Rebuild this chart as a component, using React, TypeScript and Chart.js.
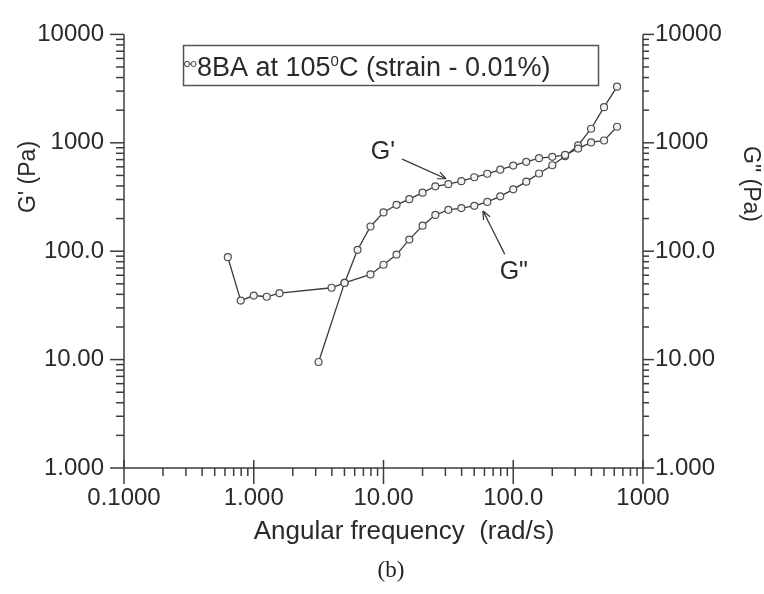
import React, { useEffect, useRef } from 'react';
import { Chart, registerables } from 'chart.js';

Chart.register(...registerables);

// ---- data ----
const freqGp = [3.16, 5.01, 6.31, 7.94, 10, 12.6, 15.8, 20, 25.1, 31.6, 39.8, 50.1, 63.1, 79.4, 100, 126, 158, 200, 251, 316, 398, 501, 631];
const gPrime = [9.5, 51, 103, 169, 228, 268, 302, 347, 397, 415, 443, 481, 518, 565, 616, 668, 722, 742, 773, 884, 1007, 1050, 1406];

const freqGpp = [0.631, 0.794, 1.0, 1.26, 1.58, 3.98, 5.01, 7.94, 10, 12.6, 15.8, 20, 25.1, 31.6, 39.8, 50.1, 63.1, 79.4, 100, 126, 158, 200, 251, 316, 398, 501, 631];
const gDoublePrime = [88, 35, 39, 38, 41, 46, 51, 61, 75, 93, 128, 172, 216, 241, 250, 262, 285, 321, 372, 438, 521, 621, 753, 946, 1348, 2132, 3297];

const xTickValues = [0.1, 1, 10, 100, 1000];
const xTickLabels = ['0.1000', '1.000', '10.00', '100.0', '1000'];
const yTickValues = [1, 10, 100, 1000, 10000];
const yTickLabels = ['1.000', '10.00', '100.0', '1000', '10000'];

const xTitle = 'Angular frequency  (rad/s)';
const yTitle = "G' (Pa)";
const y2Title = 'G" (Pa)';
const legendMain = '8BA at 105';
const legendSup = '0';
const legendTail = 'C (strain - 0.01%)';
const caption = '(b)';

// annotation labels with arrows, positioned in data coordinates
const annText = ["G'", 'G"'];
const annTextX = [9.9, 101];
const annTextY = [818, 64.6];
const annFromX = [13.9, 86];
const annFromY = [707, 94];
const annToX = [30.3, 58.5];
const annToY = [466, 235];

const FONT = '"Liberation Sans", Arial, Helvetica, sans-serif';
const INK = '#2a2a2a';
const AXIS = '#3c3c3c';

function majorMinorValues(min: number, max: number) {
  const out: { v: number; major: boolean }[] = [];
  const d0 = Math.floor(Math.log10(min) + 1e-9);
  const d1 = Math.ceil(Math.log10(max) - 1e-9);
  for (let d = d0; d <= d1; d++) {
    for (let m = 1; m <= 9; m++) {
      const v = m * Math.pow(10, d);
      if (v < min * 0.9999 || v > max * 1.0001) continue;
      out.push({ v, major: m === 1 });
    }
  }
  return out;
}

const decorPlugin = {
  id: 'decor',
  afterDatasetsDraw(chart: any) {
    const { ctx, chartArea } = chart;
    const { left, right, top, bottom } = chartArea;
    const xs = chart.scales.x;
    const ys = chart.scales.y;
    const ys2 = chart.scales.y2;
    ctx.save();
    ctx.strokeStyle = AXIS;
    ctx.lineWidth = 1.5;
    const seg = (x1: number, y1: number, x2: number, y2: number) => {
      ctx.beginPath();
      ctx.moveTo(x1, y1);
      ctx.lineTo(x2, y2);
      ctx.stroke();
    };
    // axis lines
    seg(left, top, left, bottom);
    seg(right, top, right, bottom);
    seg(left, bottom, right, bottom);
    // left ticks
    for (const t of majorMinorValues(ys.min, ys.max)) {
      const py = ys.getPixelForValue(t.v);
      seg(left - (t.major ? 14 : 8), py, left, py);
    }
    // right ticks
    for (const t of majorMinorValues(ys2.min, ys2.max)) {
      const py = ys2.getPixelForValue(t.v);
      seg(right, py, right + (t.major ? 11 : 6), py);
    }
    // bottom ticks
    for (const t of majorMinorValues(xs.min, xs.max)) {
      const px = xs.getPixelForValue(t.v);
      if (t.major) seg(px, bottom - 8, px, bottom + 16);
      else seg(px, bottom, px, bottom + 8);
    }

    // axis titles
    ctx.fillStyle = INK;
    ctx.textBaseline = 'middle';
    ctx.textAlign = 'center';
    ctx.font = `26px ${FONT}`;
    ctx.fillText(xTitle, 404, 532);

    ctx.font = `23px ${FONT}`;
    ctx.save();
    ctx.translate(28.5, 177);
    ctx.rotate(-Math.PI / 2);
    ctx.fillText(yTitle, 0, 0);
    ctx.restore();
    ctx.save();
    ctx.translate(750, 184);
    ctx.rotate(Math.PI / 2);
    ctx.fillText(y2Title, 0, 0);
    ctx.restore();

    // legend box
    ctx.strokeStyle = '#555';
    ctx.lineWidth = 1.5;
    ctx.strokeRect(183.5, 45.5, 415, 40);
    // legend symbol
    ctx.lineWidth = 1;
    ctx.strokeStyle = '#444';
    seg(186, 64, 195, 64);
    for (const cx of [187, 193.5]) {
      ctx.beginPath();
      ctx.arc(cx, 64, 2.6, 0, Math.PI * 2);
      ctx.fillStyle = '#f4f4f4';
      ctx.fill();
      ctx.stroke();
    }
    ctx.fillStyle = INK;
    ctx.textAlign = 'left';
    ctx.textBaseline = 'alphabetic';
    ctx.font = `27px ${FONT}`;
    let tx = 197;
    ctx.fillText(legendMain, tx, 76);
    tx += ctx.measureText(legendMain).width;
    ctx.font = `15px ${FONT}`;
    ctx.fillText(legendSup, tx, 66);
    tx += ctx.measureText(legendSup).width;
    ctx.font = `27px ${FONT}`;
    ctx.fillText(legendTail, tx, 76);

    // annotations
    ctx.strokeStyle = '#333';
    ctx.lineWidth = 1.2;
    ctx.textAlign = 'center';
    ctx.textBaseline = 'middle';
    ctx.font = `25px ${FONT}`;
    for (let i = 0; i < annText.length; i++) {
      const lx = xs.getPixelForValue(annTextX[i]);
      const ly = ys.getPixelForValue(annTextY[i]);
      ctx.fillText(annText[i], lx, ly);
      const x1 = xs.getPixelForValue(annFromX[i]);
      const y1 = ys.getPixelForValue(annFromY[i]);
      const x2 = xs.getPixelForValue(annToX[i]);
      const y2 = ys.getPixelForValue(annToY[i]);
      seg(x1, y1, x2, y2);
      const ang = Math.atan2(y2 - y1, x2 - x1);
      const hl = 9;
      const spread = 0.42;
      seg(x2, y2, x2 - hl * Math.cos(ang - spread), y2 - hl * Math.sin(ang - spread));
      seg(x2, y2, x2 - hl * Math.cos(ang + spread), y2 - hl * Math.sin(ang + spread));
    }
    ctx.restore();
  },
};

export default function App() {
  const canvasRef = useRef<HTMLCanvasElement | null>(null);

  useEffect(() => {
    if (!canvasRef.current) return;
    const tickFont = { family: FONT, size: 24 };
    const pointStyle = {
      showLine: true,
      borderColor: '#3a3a3a',
      borderWidth: 1.3,
      pointRadius: 3.5,
      pointBorderWidth: 1.2,
      pointBorderColor: '#505050',
      pointBackgroundColor: '#f2f2f2',
      tension: 0,
    };
    const chart = new Chart(canvasRef.current, {
      type: 'scatter',
      data: {
        datasets: [
          {
            label: "G'",
            data: freqGp.map((f, i) => ({ x: f, y: gPrime[i] })),
            yAxisID: 'y',
            ...pointStyle,
          },
          {
            label: 'G"',
            data: freqGpp.map((f, i) => ({ x: f, y: gDoublePrime[i] })),
            yAxisID: 'y2',
            ...pointStyle,
          },
        ],
      },
      options: {
        animation: false,
        responsive: false,
        maintainAspectRatio: false,
        layout: { padding: { left: 0, right: 0, top: 26, bottom: 0 } },
        plugins: { legend: { display: false }, tooltip: { enabled: false } },
        scales: {
          x: {
            type: 'logarithmic',
            position: 'bottom',
            min: 0.1,
            max: 1000,
            afterBuildTicks: (s: any) => {
              s.ticks = xTickValues.map((v) => ({ value: v }));
            },
            afterFit: (s: any) => {
              s.height = 126;
            },
            ticks: {
              autoSkip: false,
              maxRotation: 0,
              minRotation: 0,
              padding: 16,
              color: INK,
              font: tickFont,
              callback: (v: any) => {
                const i = xTickValues.indexOf(Number(v));
                return i >= 0 ? xTickLabels[i] : '';
              },
            },
            grid: { display: false, drawTicks: false },
            border: { display: false },
          },
          y: {
            type: 'logarithmic',
            position: 'left',
            min: 1,
            max: 10000,
            afterBuildTicks: (s: any) => {
              s.ticks = yTickValues.map((v) => ({ value: v }));
            },
            afterFit: (s: any) => {
              s.width = 124;
            },
            ticks: {
              autoSkip: false,
              padding: 20,
              color: INK,
              font: tickFont,
              callback: (v: any) => {
                const i = yTickValues.indexOf(Number(v));
                return i >= 0 ? yTickLabels[i] : '';
              },
            },
            grid: { display: false, drawTicks: false },
            border: { display: false },
          },
          y2: {
            type: 'logarithmic',
            position: 'right',
            min: 1,
            max: 10000,
            afterBuildTicks: (s: any) => {
              s.ticks = yTickValues.map((v) => ({ value: v }));
            },
            afterFit: (s: any) => {
              s.width = 121;
            },
            ticks: {
              autoSkip: false,
              padding: 12,
              color: INK,
              font: tickFont,
              callback: (v: any) => {
                const i = yTickValues.indexOf(Number(v));
                return i >= 0 ? yTickLabels[i] : '';
              },
            },
            grid: { display: false, drawTicks: false },
            border: { display: false },
          },
        },
      },
      plugins: [decorPlugin],
    } as any);
    return () => chart.destroy();
  }, []);

  return (
    <div style={{ position: 'absolute', left: 0, top: 0, width: 764, height: 594, background: '#fff' }}>
      <canvas ref={canvasRef} width={764} height={594} style={{ display: 'block', width: 764, height: 594 }} />
      <div
        style={{
          position: 'absolute',
          left: 0,
          width: 782,
          top: 556,
          textAlign: 'center',
          fontFamily: '"Liberation Serif", "Times New Roman", serif',
          fontSize: 23,
          lineHeight: '28px',
          color: '#222',
        }}
      >
        {caption}
      </div>
    </div>
  );
}
